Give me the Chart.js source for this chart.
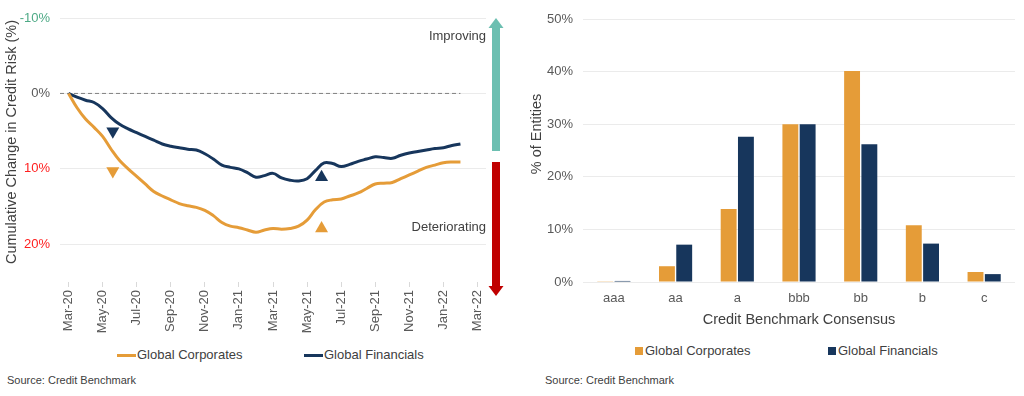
<!DOCTYPE html>
<html lang="en">
<head>
<meta charset="UTF-8">
<title>Credit Risk Trend and Rating Distribution</title>
<script src="https://cdn.jsdelivr.net/npm/chart.js"></script>
<style>
    body {
        margin: 0;
        background: #fff;
        font-family: "Liberation Sans", Arial, sans-serif;
        color: #404040;
    }

    .wrap {
        position: relative;
        width: 1024px;
        height: 396px;
        overflow: hidden;
    }

    .wrap canvas {
        position: absolute;
        top: 0;
    }

    #trend-chart { left: 0; }
    #rating-chart { left: 520px; }

    .legend-item {
        position: absolute;
        font-size: 13px;
        line-height: 16px;
        white-space: nowrap;
    }

    .legend-item .line {
        display: inline-block;
        width: 19px;
        height: 3px;
        margin-right: 1px;
        vertical-align: middle;
    }

    .legend-item .box {
        display: inline-block;
        width: 8px;
        height: 8px;
        margin-right: 2px;
        vertical-align: middle;
        position: relative;
        top: -1px;
    }

    .source {
        position: absolute;
        top: 374px;
        font-size: 11px;
        color: #404040;
    }
</style>
</head>
<body>
<div class="wrap">
    <canvas id="trend-chart" width="520" height="340"></canvas>
    <canvas id="rating-chart" width="504" height="340"></canvas>

    <div class="legend-item" style="left:117px; top:347px;"><span class="line" style="background:#E59C38"></span>Global Corporates</div>
    <div class="legend-item" style="left:304px; top:347px;"><span class="line" style="background:#17365C"></span>Global Financials</div>

    <div class="legend-item" style="left:635px; top:343px;"><span class="box" style="background:#E59C38"></span>Global Corporates</div>
    <div class="legend-item" style="left:828px; top:343px;"><span class="box" style="background:#17365C"></span>Global Financials</div>

    <div class="source" style="left:7px;">Source: Credit Benchmark</div>
    <div class="source" style="left:545px;">Source: Credit Benchmark</div>
</div>

<script>
    // months since Mar-20
    const trendMonths = [0, 0.5, 1, 1.5, 2, 2.5, 3, 3.5, 4, 4.5, 5, 5.5, 6, 6.5, 7, 7.5, 8, 8.5, 9, 9.5,
        10, 10.5, 11, 11.5, 12, 12.5, 13, 13.5, 14, 14.5, 15, 15.5, 16, 16.5, 17, 17.5, 18, 18.5, 19, 19.5,
        20, 20.5, 21, 21.5, 22, 22.5, 23];
    const corporatesTrend = [0, 1.9, 3.4, 4.5, 5.7, 7.4, 8.9, 10.0, 11.0, 12.0, 13.0, 13.6, 14.1, 14.6, 14.9, 15.1,
        15.5, 16.2, 17.1, 17.6, 17.8, 18.1, 18.4, 18.1, 17.9, 18.0, 17.9, 17.6, 16.8, 15.4, 14.4, 14.1,
        14.0, 13.6, 13.2, 12.6, 12.0, 11.9, 11.8, 11.3, 10.8, 10.3, 9.8, 9.5, 9.2, 9.1, 9.1];
    const financialsTrend = [0, 0.5, 0.9, 1.2, 2.0, 3.2, 4.1, 4.7, 5.2, 5.7, 6.2, 6.7, 7.0, 7.2, 7.4, 7.5,
        8.0, 8.7, 9.5, 9.8, 10.0, 10.5, 11.1, 10.9, 10.6, 11.2, 11.5, 11.6, 11.3, 10.2, 9.2, 9.3,
        9.7, 9.4, 9.0, 8.7, 8.4, 8.5, 8.6, 8.2, 7.9, 7.7, 7.5, 7.3, 7.2, 6.9, 6.7];

    const monthTicks = [0, 2, 4, 6, 8, 10, 12, 14, 16, 18, 20, 22, 24];
    const monthLabels = ['Mar-20', 'May-20', 'Jul-20', 'Sep-20', 'Nov-20', 'Jan-21', 'Mar-21',
        'May-21', 'Jul-21', 'Sep-21', 'Nov-21', 'Jan-22', 'Mar-22'];
    const riskTicks = [-10, 0, 10, 20];

    // down markers (deteriorating) and up markers (improving)
    const downMarkers = { corporates: { x: 2.6, y: 10.3 }, financials: { x: 2.6, y: 5.0 } };
    const upMarkers = { corporates: { x: 14.85, y: 17.9 }, financials: { x: 14.85, y: 11.1 } };

    const ratingBuckets = ['aaa', 'aa', 'a', 'bbb', 'bb', 'b', 'c'];
    const corporatesShare = [0.05, 3.0, 13.9, 30.0, 40.1, 10.8, 1.9];
    const financialsShare = [0.2, 7.1, 27.6, 30.0, 26.2, 7.3, 1.5];

    const GOLD = '#E59C38';
    const NAVY = '#17365C';
    const GRID = '#ebebeb';
    const TICK_COLOR = '#595959';
    const FONT = '"Liberation Sans", Arial, sans-serif';

    Chart.defaults.font.family = FONT;
    Chart.defaults.font.size = 13;
    Chart.defaults.color = TICK_COLOR;
    Chart.defaults.animation = false;

    function toPoints(xs, ys) {
        return xs.map((x, i) => ({ x: x, y: ys[i] }));
    }

    // vertical axis title, placed a bit above the middle of the plot like the original
    const sideTitle = {
        id: 'sideTitle',
        afterDraw(chart, args, opts) {
            const ctx = chart.ctx;
            ctx.save();
            ctx.translate(opts.x, opts.y);
            ctx.rotate(-Math.PI / 2);
            ctx.fillStyle = '#404040';
            ctx.font = opts.size + 'px ' + FONT;
            ctx.textAlign = 'center';
            ctx.textBaseline = 'middle';
            ctx.fillText(opts.text, 0, 0);
            ctx.restore();
        }
    };

    // arrows + labels on the right side of the trend chart
    const riskArrows = {
        id: 'riskArrows',
        afterDraw(chart) {
            const ctx = chart.ctx;
            const cx = 496;
            ctx.save();

            ctx.fillStyle = '#6CBFB1';
            ctx.fillRect(cx - 4, 27, 8, 124);
            ctx.beginPath();
            ctx.moveTo(cx, 18);
            ctx.lineTo(cx + 7.5, 28);
            ctx.lineTo(cx - 7.5, 28);
            ctx.closePath();
            ctx.fill();

            ctx.fillStyle = '#C00000';
            ctx.fillRect(cx - 4, 162, 8, 126);
            ctx.beginPath();
            ctx.moveTo(cx, 296);
            ctx.lineTo(cx + 7.5, 286);
            ctx.lineTo(cx - 7.5, 286);
            ctx.closePath();
            ctx.fill();

            ctx.fillStyle = '#404040';
            ctx.font = '13px ' + FONT;
            ctx.textAlign = 'right';
            ctx.textBaseline = 'middle';
            ctx.fillText('Improving', 486, 36);
            ctx.fillText('Deteriorating', 486, 227);
            ctx.restore();
        }
    };

    function drawTrendChart() {
        const ctx = document.getElementById('trend-chart').getContext('2d');
        new Chart(ctx, {
            type: 'line',
            data: {
                datasets: [
                    {
                        label: 'Global Corporates',
                        data: toPoints(trendMonths, corporatesTrend),
                        borderColor: GOLD,
                        borderWidth: 3,
                        pointRadius: 0,
                        tension: 0.4
                    },
                    {
                        label: 'Global Financials',
                        data: toPoints(trendMonths, financialsTrend),
                        borderColor: NAVY,
                        borderWidth: 3,
                        pointRadius: 0,
                        tension: 0.4
                    },
                    {
                        label: 'down markers',
                        data: [downMarkers.corporates, downMarkers.financials],
                        showLine: false,
                        pointStyle: 'triangle',
                        rotation: 180,
                        pointRadius: 7.5,
                        pointBackgroundColor: [GOLD, NAVY],
                        pointBorderWidth: 0
                    },
                    {
                        label: 'up markers',
                        data: [upMarkers.corporates, upMarkers.financials],
                        showLine: false,
                        pointStyle: 'triangle',
                        pointRadius: 7.5,
                        pointBackgroundColor: [GOLD, NAVY],
                        pointBorderWidth: 0
                    },
                    {
                        label: 'zero',
                        data: [{ x: -0.5, y: 0 }, { x: 23, y: 0 }],
                        borderColor: '#808080',
                        borderWidth: 1,
                        borderDash: [4, 3],
                        pointRadius: 0
                    }
                ]
            },
            options: {
                responsive: false,
                layout: { padding: { left: 0, top: 18, right: 34, bottom: 0 } },
                plugins: {
                    legend: { display: false },
                    tooltip: { enabled: false },
                    sideTitle: { text: 'Cumulative Change in Credit Risk (%)', x: 12, y: 142, size: 14.5 }
                },
                scales: {
                    x: {
                        type: 'linear',
                        min: -0.5,
                        max: 24.5,
                        afterBuildTicks: axis => { axis.ticks = monthTicks.map(v => ({ value: v })); },
                        afterFit: axis => { axis.height = 58; },
                        ticks: {
                            autoSkip: false,
                            minRotation: 90,
                            maxRotation: 90,
                            padding: 3,
                            callback: v => monthLabels[monthTicks.indexOf(v)]
                        },
                        grid: {
                            drawOnChartArea: false,
                            tickLength: 5,
                            color: '#d9d9d9'
                        },
                        border: { display: false }
                    },
                    y: {
                        reverse: true,
                        min: -10,
                        max: 25,
                        afterBuildTicks: axis => { axis.ticks = riskTicks.map(v => ({ value: v })); },
                        afterFit: axis => { axis.width = 60; },
                        ticks: {
                            padding: 10,
                            callback: v => v + '%',
                            color: c => c.tick.value < 0 ? '#4EAA86' : (c.tick.value > 0 ? '#FF2020' : TICK_COLOR)
                        },
                        grid: { color: GRID, drawTicks: false },
                        border: { display: false }
                    }
                }
            },
            plugins: [riskArrows, sideTitle]
        });
    }

    function drawRatingChart() {
        const ctx = document.getElementById('rating-chart').getContext('2d');
        new Chart(ctx, {
            type: 'bar',
            data: {
                labels: ratingBuckets,
                datasets: [
                    {
                        label: 'Global Corporates',
                        data: corporatesShare,
                        backgroundColor: GOLD,
                        categoryPercentage: 0.56,
                        barPercentage: 0.92
                    },
                    {
                        label: 'Global Financials',
                        data: financialsShare,
                        backgroundColor: NAVY,
                        categoryPercentage: 0.56,
                        barPercentage: 0.92
                    }
                ]
            },
            options: {
                responsive: false,
                layout: { padding: { left: 0, top: 19, right: 9, bottom: 0 } },
                plugins: {
                    legend: { display: false },
                    tooltip: { enabled: false },
                    sideTitle: { text: '% of Entities', x: 17, y: 134, size: 14.5 }
                },
                scales: {
                    x: {
                        afterFit: axis => { axis.height = 58; },
                        ticks: { padding: 9 },
                        grid: { display: false, drawTicks: false },
                        border: { display: false },
                        title: {
                            display: true,
                            text: 'Credit Benchmark Consensus',
                            color: '#404040',
                            font: { size: 14.5 },
                            padding: { top: 0, bottom: 11 }
                        }
                    },
                    y: {
                        min: 0,
                        max: 50,
                        afterFit: axis => { axis.width = 63; },
                        ticks: {
                            stepSize: 10,
                            padding: 10,
                            callback: v => v + '%'
                        },
                        grid: { color: GRID, drawTicks: false },
                        border: { display: false }
                    }
                }
            },
            plugins: [sideTitle]
        });
    }

    function init() {
        drawTrendChart();
        drawRatingChart();
    }

    document.addEventListener('DOMContentLoaded', init);
</script>
</body>
</html>
